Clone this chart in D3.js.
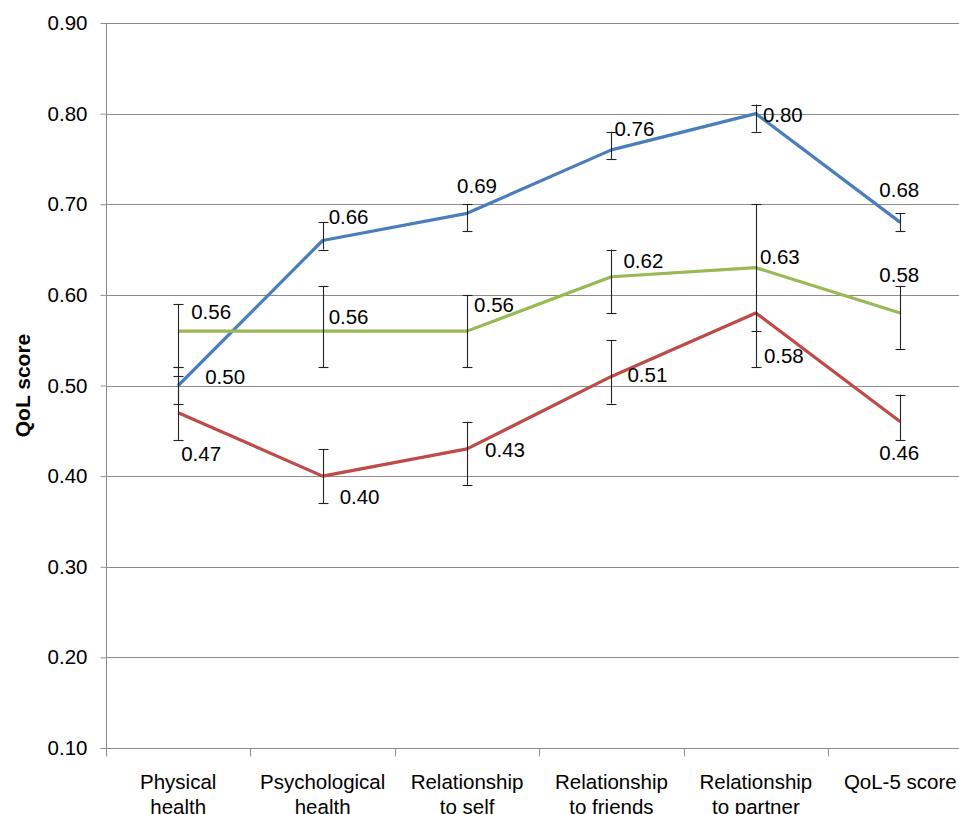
<!DOCTYPE html>
<html>
<head>
<meta charset="utf-8">
<script src="https://cdn.jsdelivr.net/npm/d3@7/dist/d3.min.js"></script>
<style>
  html, body { margin: 0; padding: 0; background: #fff; }
  svg { display: block; font-family: "Liberation Sans", Arial, sans-serif; }
</style>
</head>
<body>
<svg id="chart" width="959" height="814"></svg>
<script>
// Domains on the category axis
const categories = [
  ["Physical", "health"],
  ["Psychological", "health"],
  ["Relationship", "to self"],
  ["Relationship", "to friends"],
  ["Relationship", "to partner"],
  ["QoL-5 score"]
];

// Mean QoL scores per group
const blueValues  = [0.50, 0.66, 0.69, 0.76, 0.80, 0.68];
const greenValues = [0.56, 0.56, 0.56, 0.62, 0.63, 0.58];
const redValues   = [0.47, 0.40, 0.43, 0.51, 0.58, 0.46];

// Error bar limits (lower, upper)
const blueLow   = [0.48, 0.65, 0.67, 0.75, 0.78, 0.67];
const blueHigh  = [0.52, 0.68, 0.70, 0.78, 0.81, 0.69];
const greenLow  = [0.52, 0.52, 0.52, 0.58, 0.52, 0.54];
const greenHigh = [0.59, 0.61, 0.60, 0.65, 0.70, 0.61];
const redLow    = [0.44, 0.37, 0.39, 0.48, 0.56, 0.44];
const redHigh   = [0.51, 0.43, 0.46, 0.55, 0.58, 0.49];

const yTicks = [0.10, 0.20, 0.30, 0.40, 0.50, 0.60, 0.70, 0.80, 0.90];

// Label placement (pixel offsets from each point: dx to text start, dy to baseline)
const blueLabelPos  = [[27, -2], [6, -17], [-10, -20], [3, -14], [7, 8], [-21, -25]];
const greenLabelPos = [[13, -12], [6, -7], [7, -19], [12, -9], [4, -4], [-21, -31]];
const redLabelPos   = [[3, 48], [17, 28], [18, 8], [16, 6], [8, 50], [-21, 38]];

const series = [
  { values: blueValues,  low: blueLow,  high: blueHigh,  color: "#4A7EBB", labels: blueLabelPos },
  { values: greenValues, low: greenLow, high: greenHigh, color: "#98B954", labels: greenLabelPos },
  { values: redValues,   low: redLow,   high: redHigh,   color: "#BE4B48", labels: redLabelPos }
];

const fontSize = 20.5;
const svg = d3.select("#chart");
const plotLeft = 106, plotTop = 23, plotBottom = 748, plotRight = 972.5;

const x = d3.scaleBand()
  .domain(d3.range(categories.length))
  .range([plotLeft, plotRight])
  .paddingInner(0).paddingOuter(0);

const y = d3.scaleLinear().domain([0.10, 0.90]).range([plotBottom, plotTop]);

const gridColor = "#8c8c8c";

// Horizontal gridlines
svg.append("g")
  .selectAll("line")
  .data(yTicks.slice(1))
  .join("line")
  .attr("x1", plotLeft).attr("x2", 959)
  .attr("y1", d => Math.round(y(d)) + 0.5)
  .attr("y2", d => Math.round(y(d)) + 0.5)
  .attr("stroke", gridColor).attr("stroke-width", 1);

// Y axis
const yAxis = svg.append("g")
  .attr("transform", `translate(${plotLeft + 0.5},0)`)
  .call(d3.axisLeft(y).tickValues(yTicks).tickFormat(d3.format(".2f")).tickSize(6).tickPadding(13));
yAxis.select(".domain").attr("stroke", gridColor).attr("d", `M0,${plotBottom}V${plotTop}`);
yAxis.selectAll(".tick line").attr("stroke", gridColor);
yAxis.selectAll(".tick text")
  .attr("font-size", fontSize).attr("fill", "#000")
  .attr("font-family", "Liberation Sans, Arial, sans-serif");

// X axis
const xAxis = svg.append("g")
  .attr("transform", `translate(0,${Math.round(plotBottom) + 0.5})`);
xAxis.append("line")
  .attr("x1", plotLeft).attr("x2", 959)
  .attr("stroke", gridColor);
xAxis.selectAll("line.tk")
  .data(d3.range(categories.length + 1))
  .join("line")
  .attr("class", "tk")
  .attr("x1", i => Math.round(plotLeft + i * x.bandwidth()) + 0.5)
  .attr("x2", i => Math.round(plotLeft + i * x.bandwidth()) + 0.5)
  .attr("y1", 0).attr("y2", 8)
  .attr("stroke", gridColor);

const xLabels = xAxis.selectAll("text.cat")
  .data(categories)
  .join("text")
  .attr("class", "cat")
  .attr("text-anchor", "middle")
  .attr("font-size", fontSize)
  .attr("fill", "#000");
xLabels.each(function(lines, i) {
  const t = d3.select(this);
  lines.forEach((ln, j) => {
    t.append("tspan")
      .attr("x", x(i) + x.bandwidth() / 2)
      .attr("y", 40 + j * 25)
      .text(ln);
  });
});

// Y axis title
svg.append("text")
  .attr("transform", `translate(30,${(plotTop + plotBottom) / 2}) rotate(-90)`)
  .attr("text-anchor", "middle")
  .attr("font-size", 21)
  .attr("font-weight", "bold")
  .text("QoL score");

const cx = i => x(i) + x.bandwidth() / 2;

// Lines
const line = d3.line().x((d, i) => cx(i)).y(d => y(d));
series.forEach(s => {
  svg.append("path")
    .datum(s.values)
    .attr("d", line)
    .attr("fill", "none")
    .attr("stroke", s.color)
    .attr("stroke-width", 3.2)
    .attr("stroke-linejoin", "round");
});

// Error bars
const errG = svg.append("g").attr("stroke", "#222").attr("stroke-width", 1.1);
series.forEach(s => {
  s.values.forEach((v, i) => {
    const px = Math.round(cx(i)) + 0.5;
    errG.append("line").attr("x1", px).attr("x2", px)
      .attr("y1", y(s.low[i])).attr("y2", y(s.high[i]));
    [s.low[i], s.high[i]].forEach(b => {
      if (b !== v) {
        errG.append("line")
          .attr("x1", px - 5).attr("x2", px + 5)
          .attr("y1", Math.round(y(b)) + 0.5).attr("y2", Math.round(y(b)) + 0.5);
      }
    });
  });
});

// Value labels
series.forEach(s => {
  svg.append("g")
    .selectAll("text")
    .data(s.values)
    .join("text")
    .attr("x", (d, i) => cx(i) + s.labels[i][0])
    .attr("y", (d, i) => y(d) + s.labels[i][1])
    .attr("font-size", fontSize)
    .attr("fill", "#000")
    .text(d => d3.format(".2f")(d));
});
</script>
</body>
</html>
